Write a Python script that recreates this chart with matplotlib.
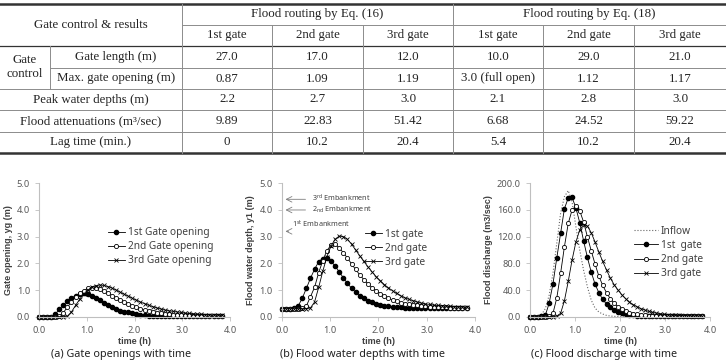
import matplotlib
matplotlib.use("Agg")
import matplotlib.pyplot as plt

# ---- table data ----
group_titles = ["Flood routing by Eq. (16)", "Flood routing by Eq. (18)"]
gate_names = ["1st gate", "2nd gate", "3rd gate", "1st gate", "2nd gate", "3rd gate"]
gate_length = ["27.0", "17.0", "12.0", "10.0", "29.0", "21.0"]
max_opening = ["0.87", "1.09", "1.19", "3.0 (full open)", "1.12", "1.17"]
peak_depth = ["2.2", "2.7", "3.0", "2.1", "2.8", "3.0"]
attenuation = ["9.89", "22.83", "51.42", "6.68", "24.52", "59.22"]
lag_time = ["0", "10.2", "20.4", "5.4", "10.2", "20.4"]

# ---- chart data (time step 5.1 min) ----
t_h = [0.000, 0.085, 0.170, 0.255, 0.340, 0.425, 0.510, 0.595, 0.680, 0.765,
       0.850, 0.935, 1.020, 1.105, 1.190, 1.275, 1.360, 1.445, 1.530, 1.615,
       1.700, 1.785, 1.870, 1.955, 2.040, 2.125, 2.210, 2.295, 2.380, 2.465,
       2.550, 2.635, 2.720, 2.805, 2.890, 2.975, 3.060, 3.145, 3.230, 3.315,
       3.400, 3.485, 3.570, 3.655, 3.740, 3.825]

open1 = [0, 0, 0, 0, 0.10, 0.27, 0.44, 0.58, 0.70, 0.79,
         0.85, 0.87, 0.84, 0.78, 0.70, 0.61, 0.52, 0.43, 0.35, 0.28,
         0.23, 0.19, 0.16, 0.12, 0.09, 0.07, 0.05, 0.04, 0.03, 0.03,
         0.02, 0.02, 0.02, 0.02, 0.02, 0.02, 0.02, 0.02, 0.02, 0.02,
         0.02, 0.02, 0.02, 0.02, 0.02, 0.02]
open2 = [0, 0, 0, 0, 0, 0.03, 0.15, 0.36, 0.55, 0.73,
         0.87, 0.98, 1.06, 1.09, 1.07, 1.02, 0.95, 0.87, 0.79, 0.71,
         0.63, 0.55, 0.48, 0.41, 0.35, 0.30, 0.25, 0.21, 0.18, 0.15,
         0.13, 0.11, 0.09, 0.08, 0.07, 0.06, 0.05, 0.05, 0.04, 0.04,
         0.04, 0.03, 0.03, 0.03, 0.03, 0.03]
open3 = [0, 0, 0, 0, 0, 0, 0, 0.02, 0.18, 0.42,
         0.65, 0.85, 1.00, 1.10, 1.16, 1.19, 1.17, 1.13, 1.07, 1.00,
         0.92, 0.84, 0.77, 0.69, 0.62, 0.55, 0.49, 0.43, 0.38, 0.33,
         0.29, 0.25, 0.22, 0.20, 0.18, 0.16, 0.14, 0.12, 0.11, 0.10,
         0.09, 0.08, 0.07, 0.07, 0.06, 0.05]

depth1 = [0.30, 0.30, 0.30, 0.32, 0.40, 0.69, 1.06, 1.44, 1.78, 2.06,
          2.18, 2.20, 2.08, 1.90, 1.68, 1.46, 1.25, 1.07, 0.92, 0.79,
          0.69, 0.60, 0.54, 0.49, 0.44, 0.41, 0.39, 0.37, 0.36, 0.35,
          0.34, 0.34, 0.33, 0.33, 0.33, 0.33, 0.33, 0.33, 0.33, 0.33,
          0.33, 0.33, 0.33, 0.33, 0.33, 0.33]
depth2 = [0.30, 0.30, 0.30, 0.30, 0.30, 0.32, 0.40, 0.75, 1.10, 1.65,
          2.10, 2.48, 2.68, 2.72, 2.58, 2.40, 2.20, 1.98, 1.77, 1.57,
          1.39, 1.23, 1.09, 0.97, 0.86, 0.77, 0.69, 0.62, 0.57, 0.52,
          0.49, 0.46, 0.44, 0.42, 0.40, 0.39, 0.38, 0.37, 0.36, 0.35,
          0.35, 0.34, 0.34, 0.34, 0.33, 0.33]
depth3 = [0.30, 0.30, 0.30, 0.30, 0.30, 0.30, 0.30, 0.33, 0.55, 1.10,
          1.70, 2.25, 2.65, 2.90, 3.02, 3.00, 2.90, 2.72, 2.50, 2.28,
          2.07, 1.87, 1.68, 1.50, 1.35, 1.20, 1.08, 0.97, 0.87, 0.78,
          0.71, 0.65, 0.60, 0.55, 0.51, 0.48, 0.46, 0.44, 0.42, 0.41,
          0.40, 0.39, 0.38, 0.37, 0.37, 0.36]

inflow = [0, 0, 0, 3, 12, 32, 65, 110, 155, 180,
          189, 172, 135, 100, 70, 45, 25, 13, 7, 4,
          2, 1, 0.5, 0.3, 0, 0, 0, 0, 0, 0,
          0, 0, 0, 0, 0, 0, 0, 0, 0, 0,
          0, 0, 0, 0, 0, 0]
out1 = [0, 0, 0, 0.5, 2, 20, 49, 88, 125, 162,
        178, 179, 163, 141, 114, 89, 67, 49, 36, 26,
        19, 14, 10, 7, 5, 4, 3, 2, 1.5, 1.2,
        1, 1, 1, 1, 1, 1, 1, 1, 1, 1,
        1, 1, 1, 1, 1, 1]
out2 = [0, 0, 0, 0, 0, 1, 5, 28, 65, 105,
        140, 160, 166, 159, 142, 120, 99, 79, 61, 47,
        36, 27, 20, 15, 11, 8, 6, 4.5, 3.5, 2.5,
        2, 1.5, 1.2, 1, 1, 1, 1, 1, 1, 1,
        1, 1, 1, 1, 1, 1]
out3 = [0, 0, 0, 0, 0, 0, 0, 1, 5, 24,
        53, 85, 112, 130, 138, 136, 126, 112, 97, 83,
        70, 58, 48, 40, 33, 27, 22, 18, 15, 12,
        10, 8, 6.5, 5.5, 4.5, 3.7, 3, 2.5, 2, 1.8,
        1.6, 1.5, 1.3, 1.2, 1.1, 1]

W, H = 726, 362
fig = plt.figure(figsize=(W / 100, H / 100), dpi=100)

# ---- table ----
tab = fig.add_axes([0, 0, 1, 1])
tab.set_xlim(0, W)
tab.set_ylim(H, 0)
tab.axis("off")
serif = "Liberation Serif"
fs_t = 9.3
dark = "#333333"
grey = "#8c8c8c"
col_edges = [182, 272, 363, 453, 543, 634, 726]
col_mid = [(a + b) / 2 for a, b in zip(col_edges[:-1], col_edges[1:])]
rows = [4, 25, 45.7, 68, 89, 110, 132, 152.7]

tab.plot([0, W], [rows[0]] * 2, color=dark, lw=1.8)
tab.plot([0, W], [rows[-1]] * 2, color=dark, lw=1.8)
tab.plot([182, W], [rows[1]] * 2, color=grey, lw=0.7)
tab.plot([0, W], [rows[2]] * 2, color=dark, lw=0.9)
tab.plot([50, W], [rows[3]] * 2, color=grey, lw=0.7)
for y in rows[4:7]:
    tab.plot([0, W], [y, y], color=grey, lw=0.7)
tab.plot([182, 182], [rows[0], rows[-1]], color=grey, lw=0.7)
tab.plot([453, 453], [rows[0], rows[-1]], color=grey, lw=0.7)
for x in [272, 363, 543, 634]:
    tab.plot([x, x], [rows[1], rows[-1]], color=grey, lw=0.7)
tab.plot([50, 50], [rows[2], rows[4]], color=grey, lw=0.7)

def cell(x, y, s):
    tab.text(x, y, s, ha="center", va="center", fontsize=fs_t, family=serif, color="#222222")

cell(91, (rows[0] + rows[2]) / 2, "Gate control & results")
cell(317.5, (rows[0] + rows[1]) / 2, group_titles[0])
cell(589.5, (rows[0] + rows[1]) / 2, group_titles[1])
for x, s in zip(col_mid, gate_names):
    cell(x, (rows[1] + rows[2]) / 2, s)
cell(25, (rows[2] + rows[4]) / 2, "Gate\ncontrol")
cell(116, (rows[2] + rows[3]) / 2, "Gate length (m)")
cell(116, (rows[3] + rows[4]) / 2, "Max. gate opening (m)")
cell(91, (rows[4] + rows[5]) / 2, "Peak water depths (m)")
cell(91, (rows[5] + rows[6]) / 2, "Flood attenuations (m\u00b3/sec)")
cell(91, (rows[6] + rows[7]) / 2, "Lag time (min.)")
body = [gate_length, max_opening, peak_depth, attenuation, lag_time]
for r, vals in enumerate(body):
    yc = (rows[2 + r] + rows[3 + r]) / 2
    for x, s in zip(col_mid, vals):
        cell(x, yc, s)

# ---- charts ----
sans = "Noto Sans"
bold_sans = "Liberation Sans"
txt = "#404040"
bot = 1 - 316.7 / H
hgt = (316.7 - 183.3) / H
ms = 3.0

def make_ax(x0, x1):
    ax = fig.add_axes([x0 / W, bot, (x1 - x0) / W, hgt])
    ax.patch.set_alpha(0)
    for s in ["top", "right"]:
        ax.spines[s].set_visible(False)
    for s in ["left", "bottom"]:
        ax.spines[s].set_color("#bfbfbf")
        ax.spines[s].set_linewidth(0.8)
    ax.tick_params(colors="#bfbfbf", labelcolor="#595959", labelsize=6.7, length=3, width=0.6)
    ax.set_xlim(0, 4)
    ax.set_xticks([0, 1, 2, 3, 4])
    ax.set_xticklabels(["0.0", "1.0", "2.0", "3.0", "4.0"], family=sans)
    ax.set_xlabel("time (h)", fontsize=6.5, fontweight="bold", color=txt, family=bold_sans, labelpad=1.5)
    return ax

def series(ax, y, kind, label):
    if kind == "filled":
        ax.plot(t_h, y, "-o", color="black", lw=0.6, ms=ms, mfc="black", mec="black", label=label, clip_on=False)
    elif kind == "open":
        ax.plot(t_h, y, "-o", color="black", lw=0.6, ms=ms, mfc="white", mec="black", mew=0.6, label=label, clip_on=False)
    else:
        ax.plot(t_h, y, "-x", color="black", lw=0.6, ms=ms, mew=0.6, label=label, clip_on=False)

def yfmt(ax, ticks):
    ax.set_yticks(ticks)
    ax.set_yticklabels(["%.1f" % v for v in ticks], family=sans)

leg_kw = dict(frameon=False, handletextpad=0.3,
              labelspacing=0.3, borderpad=0, borderaxespad=0, labelcolor=txt,
              prop={"family": sans, "size": 7.3})

def ylab(ax, s):
    ax.set_ylabel(s, fontsize=6.5, fontweight="bold", color=txt, family=bold_sans, labelpad=3)

# (a)
axA = make_ax(39, 230)
axA.set_ylim(0, 5)
yfmt(axA, [0, 1, 2, 3, 4, 5])
ylab(axA, "Gate opening, yg (m)")
series(axA, open1, "filled", "1st Gate opening")
series(axA, open2, "open", "2nd Gate opening")
series(axA, open3, "x", "3rd Gate opening")
axA.legend(loc="upper left", bbox_to_anchor=(0.36, 0.67), handlelength=1.7, **leg_kw)

# (b)
axB = make_ax(281.7, 475)
axB.set_ylim(0, 5)
yfmt(axB, [0, 1, 2, 3, 4, 5])
ylab(axB, "Flood water depth, y1 (m)")
series(axB, depth1, "filled", "1st gate")
series(axB, depth2, "open", "2nd gate")
series(axB, depth3, "x", "3rd gate")
axB.legend(loc="upper left", bbox_to_anchor=(0.43, 0.66), handlelength=1.7, **leg_kw)
arr = dict(arrowstyle="->", color="#7f7f7f", lw=0.6)
emb_kw = dict(fontsize=5.2, va="center", color=txt, family=sans)
axB.annotate("", xy=(0.02, 4.4), xytext=(0.55, 4.4), arrowprops=arr)
axB.text(0.62, 4.43, "3$^{\\mathrm{rd}}$ Embankment", **emb_kw)
axB.annotate("", xy=(0.02, 4.0), xytext=(0.55, 4.0), arrowprops=arr)
axB.text(0.62, 4.0, "2$_{\\mathrm{nd}}$ Embankment", **emb_kw)
axB.annotate("", xy=(0.02, 3.2), xytext=(0.2, 3.2), arrowprops=arr)
axB.text(0.22, 3.47, "1$^{\\mathrm{st}}$ Embankment", **emb_kw)

# (c)
axC = make_ax(530, 710)
axC.set_ylim(0, 200)
yfmt(axC, [0, 40, 80, 120, 160, 200])
ylab(axC, "Flood discharge (m3/sec)")
axC.plot(t_h, inflow, ":", color="#666666", lw=0.8, label="Inflow")
series(axC, out1, "filled", "1st  gate")
series(axC, out2, "open", "2nd gate")
series(axC, out3, "x", "3rd gate")
axC.legend(loc="upper left", bbox_to_anchor=(0.58, 0.68), handlelength=2.3, **leg_kw)

# captions
for xc, s in [(121, "(a) Gate openings with time"),
              (363, "(b) Flood water depths with time"),
              (604, "(c) Flood discharge with time")]:
    fig.text(xc / W, 1 - 355 / H, s, ha="center", va="center", fontsize=7.8, family=sans, color="#222222")

fig.savefig("out.png", dpi=100)
